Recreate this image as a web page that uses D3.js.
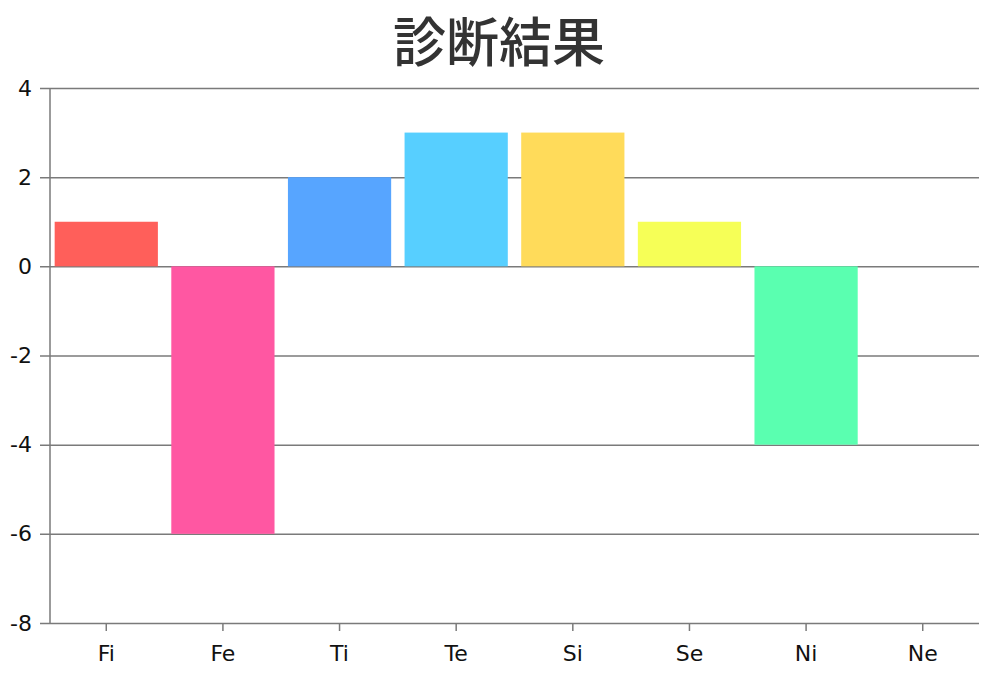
<!DOCTYPE html>
<html>
<head>
<meta charset="utf-8">
<script src="https://cdn.jsdelivr.net/npm/d3@7"></script>
<style>
  body { margin: 0; background: #fff; }
  svg text { font-family: "DejaVu Sans", Verdana, sans-serif; }
</style>
</head>
<body>
<div id="chart"></div>
<script>
// chart data
var categories = ['Fi', 'Fe', 'Ti', 'Te', 'Si', 'Se', 'Ni', 'Ne'];
var values = [1, -6, 2, 3, 3, 1, -4, 0];
var barColors = ['#ff5f5a', '#ff57a2', '#57a5ff', '#57cfff', '#ffdb5a', '#f6ff57', '#5affb0', '#cccccc'];
var yTicks = [4, 2, 0, -2, -4, -6, -8];
var titleText = '診断結果';

var width = 999, height = 679;
var margin = { top: 88, right: 20, bottom: 56, left: 50 };

var svg = d3.select('#chart').append('svg')
  .attr('width', width)
  .attr('height', height);

var x = d3.scaleBand()
  .domain(categories)
  .range([margin.left, width - margin.right])
  .paddingInner(0.115)
  .paddingOuter(0.04);

var y = d3.scaleLinear()
  .domain([-8, 4])
  .range([height - margin.bottom, margin.top]);

// title
svg.append('text')
  .attr('x', 499)
  .attr('y', 62)
  .attr('text-anchor', 'middle')
  .style('font-family', '"Noto Sans CJK JP", sans-serif')
  .style('font-size', '53px')
  .style('font-weight', '500')
  .attr('fill', '#333')
  .text(titleText);

// horizontal grid lines, which also make the y ticks
var yAxis = d3.axisLeft(y)
  .tickValues(yTicks)
  .tickFormat(function(d) { return String(d); })
  .tickSizeOuter(0)
  .tickPadding(10);

var gy = svg.append('g')
  .attr('transform', 'translate(' + (margin.left - 10) + ',0)')
  .call(yAxis);

gy.select('.domain').remove();
gy.selectAll('.tick line')
  .attr('x1', 0)
  .attr('x2', width - margin.right - margin.left + 10)
  .attr('stroke', '#7a7a7a')
  .attr('stroke-width', 1.5);
gy.selectAll('.tick text')
  .attr('x', -8)
  .attr('fill', '#111')
  .style('font-size', '22px');

// bars
svg.append('g').selectAll('rect')
  .data(values)
  .enter().append('rect')
  .attr('x', function(d, i) { return x(categories[i]); })
  .attr('y', function(d) { return y(Math.max(0, d)); })
  .attr('width', x.bandwidth())
  .attr('height', function(d) { return Math.abs(y(d) - y(0)); })
  .attr('fill', function(d, i) { return barColors[i]; });

// vertical axis line
svg.append('line')
  .attr('x1', margin.left).attr('x2', margin.left)
  .attr('y1', y(4)).attr('y2', y(-8))
  .attr('stroke', '#7a7a7a')
  .attr('stroke-width', 1.5);

// x axis at the bottom
var xAxis = d3.axisBottom(x)
  .tickSize(8)
  .tickSizeOuter(0)
  .tickPadding(14);

var gx = svg.append('g')
  .attr('transform', 'translate(0,' + y(-8) + ')')
  .call(xAxis);

gx.select('.domain').remove();
gx.selectAll('.tick line')
  .attr('stroke', '#7a7a7a')
  .attr('stroke-width', 1.5);
gx.selectAll('.tick text')
  .attr('fill', '#111')
  .style('font-size', '22px');
</script>
</body>
</html>
